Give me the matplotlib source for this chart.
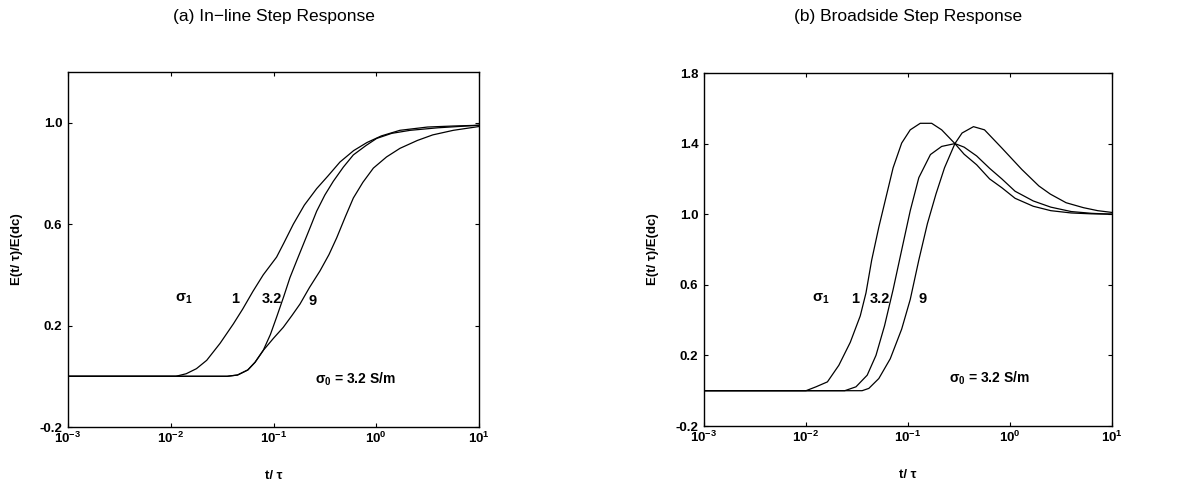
import matplotlib
matplotlib.use("Agg")
import matplotlib.pyplot as plt
import numpy as np

plt.rcParams['font.family'] = ['Liberation Sans', 'DejaVu Sans']
plt.rcParams['mathtext.fontset'] = 'custom'
plt.rcParams['mathtext.rm'] = 'Liberation Sans:bold'
plt.rcParams['mathtext.it'] = 'Liberation Sans:bold'
plt.rcParams['mathtext.bf'] = 'Liberation Sans:bold'
plt.rcParams['mathtext.default'] = 'rm'

# (a) in-line step response, log10(t/tau) and E(t/tau)/E(dc)
inline_1_logt = [-3, -1.95, -1.85, -1.75, -1.65, -1.52, -1.39, -1.3, -1.2, -1.1, -0.97, -0.9,
                 -0.807, -0.7, -0.58, -0.47, -0.353, -0.22, -0.09, 0.05, 0.23, 0.5, 0.75, 1.0]
inline_1_e = [0, 0, 0.01, 0.03, 0.063, 0.13, 0.207, 0.265, 0.335, 0.40, 0.47, 0.525,
              0.60, 0.675, 0.74, 0.79, 0.845, 0.89, 0.922, 0.948, 0.97, 0.983, 0.987, 0.99]

inline_32_logt = [-3, -1.45, -1.35, -1.25, -1.18, -1.1, -1.03, -0.97, -0.9, -0.84, -0.77, -0.71,
                  -0.64, -0.58, -0.5, -0.418, -0.32, -0.223, -0.1, 0.004, 0.15, 0.33, 0.6, 1.0]
inline_32_e = [0, 0, 0.005, 0.025, 0.055, 0.102, 0.165, 0.233, 0.315, 0.389, 0.46, 0.52,
               0.59, 0.651, 0.715, 0.769, 0.825, 0.873, 0.91, 0.938, 0.958, 0.97, 0.98, 0.99]

inline_9_logt = [-3, -1.45, -1.35, -1.25, -1.18, -1.1, -1.0, -0.905, -0.82, -0.742, -0.65, -0.547,
                 -0.46, -0.385, -0.3, -0.223, -0.13, -0.028, 0.1, 0.231, 0.4, 0.55, 0.75, 1.0]
inline_9_e = [0, 0, 0.005, 0.025, 0.055, 0.102, 0.15, 0.193, 0.24, 0.285, 0.35, 0.416,
              0.48, 0.546, 0.63, 0.703, 0.765, 0.821, 0.865, 0.899, 0.93, 0.952, 0.97, 0.985]

# (b) broadside step response
broad_1_logt = [-3, -2.0, -1.902, -1.79, -1.678, -1.566, -1.468, -1.412, -1.356, -1.286, -1.216,
                -1.146, -1.062, -0.978, -0.88, -0.768, -0.67, -0.54, -0.45, -0.327, -0.2, -0.08,
                0.05, 0.228, 0.4, 0.6, 0.8, 1.0]
broad_1_e = [0, 0, 0.022, 0.05, 0.144, 0.274, 0.424, 0.554, 0.74, 0.927, 1.095,
             1.263, 1.403, 1.478, 1.515, 1.515, 1.478, 1.40, 1.34, 1.28, 1.20, 1.15,
             1.09, 1.045, 1.02, 1.007, 1.002, 1.0]

broad_32_logt = [-3, -1.62, -1.51, -1.40, -1.314, -1.23, -1.146, -1.062, -0.978, -0.894, -0.78,
                 -0.67, -0.54, -0.45, -0.327, -0.2, -0.08, 0.05, 0.228, 0.4, 0.6, 0.8, 1.0]
broad_32_e = [0, 0, 0.022, 0.088, 0.2, 0.368, 0.573, 0.797, 1.02, 1.207, 1.338,
              1.384, 1.40, 1.38, 1.33, 1.26, 1.20, 1.13, 1.075, 1.04, 1.015, 1.005, 1.0]

broad_9_logt = [-3, -1.45, -1.384, -1.286, -1.174, -1.062, -0.978, -0.894, -0.81, -0.726, -0.642,
                -0.54, -0.47, -0.358, -0.25, -0.08, 0.115, 0.283, 0.395, 0.55, 0.72, 0.86, 1.0]
broad_9_e = [0, 0, 0.013, 0.069, 0.181, 0.349, 0.517, 0.74, 0.946, 1.114, 1.263,
             1.40, 1.46, 1.496, 1.478, 1.375, 1.254, 1.16, 1.114, 1.065, 1.037, 1.02, 1.01]

inline_yticks = [-0.2, 0.2, 0.6, 1.0]
broad_yticks = [-0.2, 0.2, 0.6, 1.0, 1.4, 1.8]
xticks = [1e-3, 1e-2, 1e-1, 1e0, 1e1]
xticklabels = [r'$10^{-3}$', r'$10^{-2}$', r'$10^{-1}$', r'$10^{0}$', r'$10^{1}$']

# curve label positions (log10 t, y)
inline_labels = [("σ$_1$", -1.87, 0.306), ("1", -1.37, 0.306), ("3.2", -1.02, 0.306), ("9", -0.62, 0.295)]
broad_labels = [("σ$_1$", -1.86, 0.52), ("1", -1.52, 0.52), ("3.2", -1.275, 0.52), ("9", -0.86, 0.52)]
sigma0_pos = [(-0.6, -0.013), (-0.6, 0.069)]

fig = plt.figure(figsize=(11.98, 4.86), dpi=100)
ax1 = fig.add_axes([68/1198, 59/486, 411/1198, 355/486])
ax2 = fig.add_axes([704/1198, 60/486, 408/1198, 353/486])


def style(ax, yticks, ylim):
    ax.set_xscale('log')
    ax.set_xlim(1e-3, 1e1)
    ax.set_ylim(*ylim)
    ax.set_xticks(xticks)
    ax.set_xticklabels(xticklabels)
    ax.minorticks_off()
    ax.set_yticks(yticks)
    ax.set_yticklabels(['%.1f' % v for v in yticks])
    ax.tick_params(direction='in', length=3, width=0.8, top=True, right=True,
                   labelsize=9.5)
    ax.tick_params(axis='y', pad=4)
    ax.tick_params(axis='x', pad=3)
    for lbl in ax.get_yticklabels():
        lbl.set_fontweight('bold')
    for sp in ax.spines.values():
        sp.set_linewidth(1.0)
    ax.set_xlabel('t/ τ', fontsize=9.5, fontweight='bold', labelpad=17)
    ax.set_ylabel('E(t/ τ)/E(dc)', fontsize=9.5, fontweight='bold', labelpad=12)


panels = [
    (ax1, [(inline_1_logt, inline_1_e), (inline_32_logt, inline_32_e), (inline_9_logt, inline_9_e)],
     inline_labels, inline_yticks, (-0.2, 1.2), sigma0_pos[0]),
    (ax2, [(broad_1_logt, broad_1_e), (broad_32_logt, broad_32_e), (broad_9_logt, broad_9_e)],
     broad_labels, broad_yticks, (-0.2, 1.8), sigma0_pos[1]),
]
for ax, curves, labels, yticks, ylim, s0 in panels:
    for lt, e in curves:
        ax.plot(10 ** np.array(lt), e, color='black', lw=0.9)
    for txt, lx, ly in labels:
        ax.text(10 ** lx, ly, txt, ha='center', va='center', fontsize=10.5, fontweight='bold')
    ax.text(10 ** s0[0], s0[1], 'σ$_0$ = 3.2 S/m',
            ha='left', va='center', fontsize=10, fontweight='bold')
    style(ax, yticks, ylim)

fig.text((68 + 479) / 2 / 1198, 1 - 17 / 486, '(a) In−line Step Response',
         ha='center', va='center', fontsize=12.5)
fig.text((704 + 1112) / 2 / 1198, 1 - 17 / 486, '(b) Broadside Step Response',
         ha='center', va='center', fontsize=12.5)

fig.savefig('out.png', dpi=100)
